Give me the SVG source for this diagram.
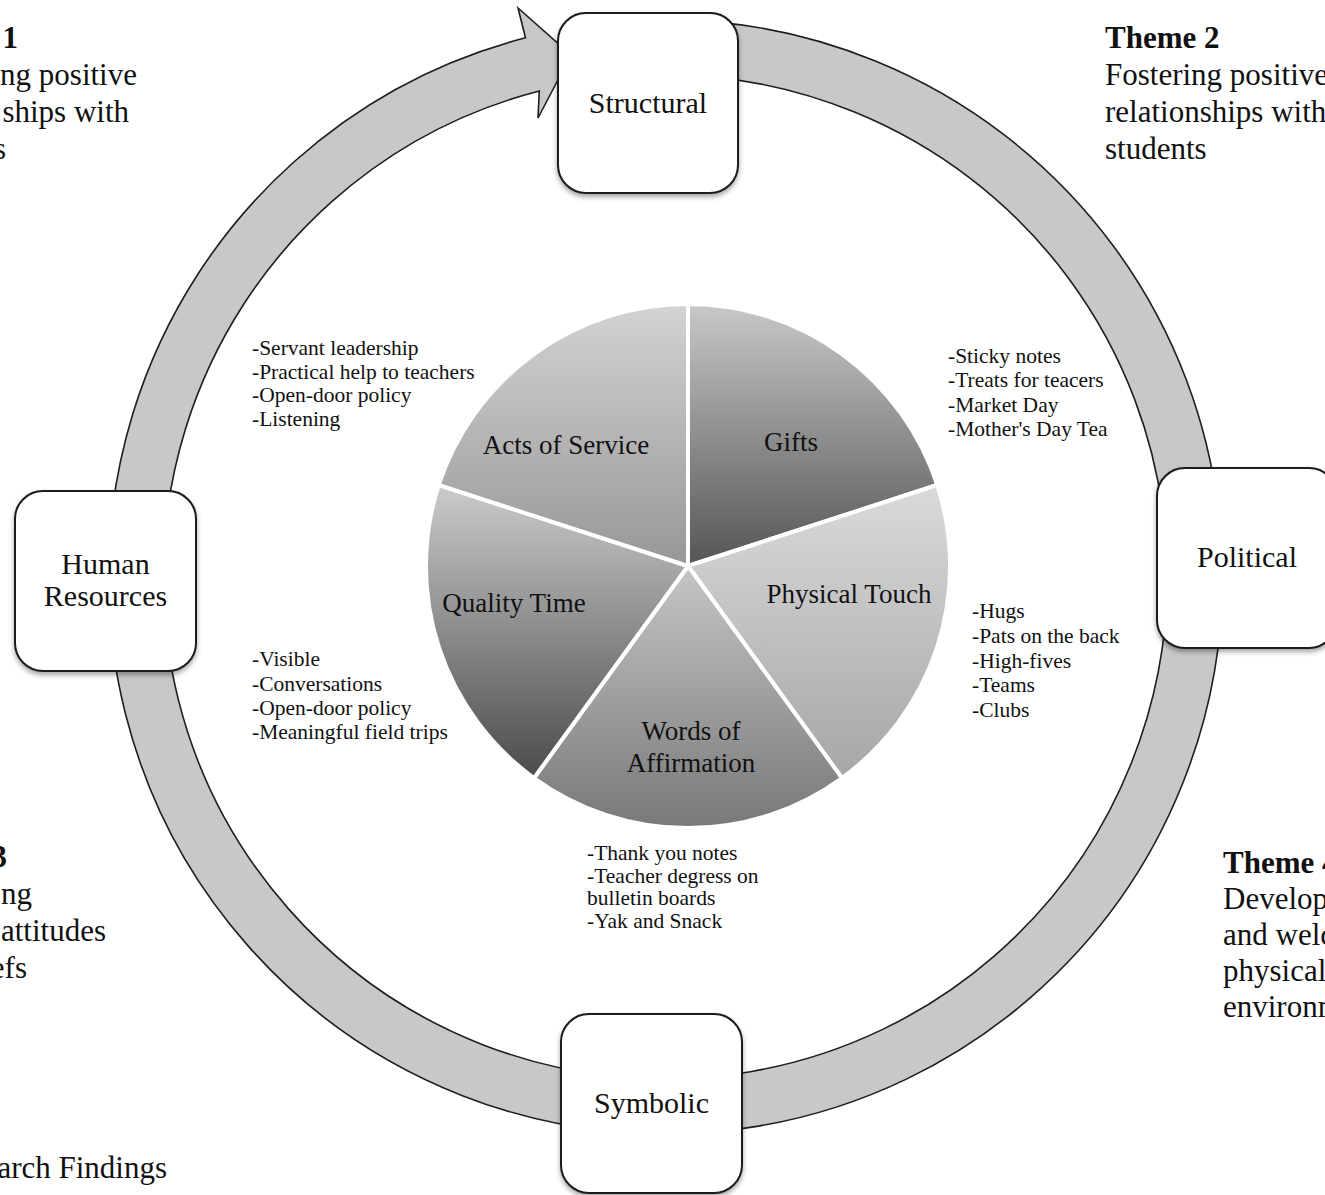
<svg xmlns="http://www.w3.org/2000/svg" width="1325" height="1195" viewBox="0 0 1325 1195">
<style>
.box{fill:#fff;stroke:#1a1a1a;stroke-width:2;filter:url(#sh)}
.lbl{font-family:"Liberation Serif","Times New Roman",serif;font-size:30px;fill:#111;text-anchor:middle}
.pie{font-family:"Liberation Serif","Times New Roman",serif;font-size:27px;fill:#111;text-anchor:middle}
.lst{font-family:"Liberation Serif","Times New Roman",serif;font-size:21.5px;fill:#111}
.th{font-family:"Liberation Serif","Times New Roman",serif;font-size:31px;fill:#111}
.b{font-weight:bold}
.e{text-anchor:end}
.slice{stroke:#fff;stroke-width:4;stroke-linejoin:round}
</style>
<defs>
<filter id="sh" x="-10%" y="-10%" width="120%" height="125%">
<feDropShadow dx="0" dy="3" stdDeviation="2.5" flood-color="#000" flood-opacity="0.35"/>
</filter>
<linearGradient id="gA" x1="0" y1="0" x2="0" y2="1"><stop offset="0" stop-color="#d3d3d3"/><stop offset="1" stop-color="#979797"/></linearGradient>
<linearGradient id="gG" x1="0" y1="0" x2="0" y2="1"><stop offset="0" stop-color="#c8c8c8"/><stop offset="1" stop-color="#555"/></linearGradient>
<linearGradient id="gP" x1="0" y1="0" x2="0" y2="1"><stop offset="0" stop-color="#dadada"/><stop offset="1" stop-color="#a6a6a6"/></linearGradient>
<linearGradient id="gW" x1="0" y1="0" x2="0" y2="1"><stop offset="0" stop-color="#c6c6c6"/><stop offset="1" stop-color="#787878"/></linearGradient>
<linearGradient id="gQ" x1="0" y1="0" x2="0" y2="1"><stop offset="0" stop-color="#cbcbcb"/><stop offset="1" stop-color="#4b4b4b"/></linearGradient>
</defs>
<rect width="1325" height="1195" fill="#fff"/>

<g id="connectors">
<path d="M 616.5 22.1 A 557 557 0 1 1 525.5 37.8 L 518 8 L 571 55 L 538 118 L 539.3 91 A 502 502 0 1 0 621.2 76.9 Z" fill="#c8c8c8" stroke="#1e1e1e" stroke-width="1.6" stroke-linejoin="miter"/>
</g>

<g id="node-structural">
<rect class="box" x="558" y="13" width="180" height="180" rx="28"/>
<text class="lbl" x="648" y="113">Structural</text>
</g>
<g id="node-human-resources">
<rect class="box" x="15" y="491" width="181" height="180" rx="28"/>
<text class="lbl" x="105.5" y="574">Human</text>
<text class="lbl" x="105.5" y="606">Resources</text>
</g>
<g id="node-political">
<rect class="box" x="1157" y="468" width="180" height="180" rx="28"/>
<text class="lbl" x="1247" y="567">Political</text>
</g>
<g id="node-symbolic">
<rect class="box" x="561" y="1014" width="181" height="179" rx="28"/>
<text class="lbl" x="651.5" y="1113">Symbolic</text>
</g>

<g id="pie">
<g id="slice-gifts">
<path class="slice" d="M 688 566 L 688 304 A 262 262 0 0 1 937.2 485 Z" fill="url(#gG)"/>
<text class="pie" x="791" y="451">Gifts</text>
</g>
<g id="slice-physical-touch">
<path class="slice" d="M 688 566 L 937.2 485 A 262 262 0 0 1 842 778 Z" fill="url(#gP)"/>
<text class="pie" x="849" y="603">Physical Touch</text>
</g>
<g id="slice-words">
<path class="slice" d="M 688 566 L 842 778 A 262 262 0 0 1 534 778 Z" fill="url(#gW)"/>
<text class="pie" x="691" y="740">Words of</text>
<text class="pie" x="691" y="772">Affirmation</text>
</g>
<g id="slice-quality-time">
<path class="slice" d="M 688 566 L 534 778 A 262 262 0 0 1 438.8 485 Z" fill="url(#gQ)"/>
<text class="pie" x="514" y="612">Quality Time</text>
</g>
<g id="slice-acts">
<path class="slice" d="M 688 566 L 438.8 485 A 262 262 0 0 1 688 304 Z" fill="url(#gA)"/>
<text class="pie" x="566" y="454">Acts of Service</text>
</g>
</g>

<g id="list-acts">
<text class="lst" x="252" y="355">-Servant leadership</text>
<text class="lst" x="252" y="378.5">-Practical help to teachers</text>
<text class="lst" x="252" y="402">-Open-door policy</text>
<text class="lst" x="252" y="425.5">-Listening</text>
</g>
<g id="list-gifts">
<text class="lst" x="948" y="363">-Sticky notes</text>
<text class="lst" x="948" y="387">-Treats for teacers</text>
<text class="lst" x="948" y="411.5">-Market Day</text>
<text class="lst" x="948" y="436">-Mother's Day Tea</text>
</g>
<g id="list-physical">
<text class="lst" x="972" y="618">-Hugs</text>
<text class="lst" x="972" y="643">-Pats on the back</text>
<text class="lst" x="972" y="667.5">-High-fives</text>
<text class="lst" x="972" y="692">-Teams</text>
<text class="lst" x="972" y="717">-Clubs</text>
</g>
<g id="list-quality">
<text class="lst" x="252" y="666">-Visible</text>
<text class="lst" x="252" y="690.5">-Conversations</text>
<text class="lst" x="252" y="715">-Open-door policy</text>
<text class="lst" x="252" y="739">-Meaningful field trips</text>
</g>
<g id="list-words">
<text class="lst" x="587" y="860">-Thank you notes</text>
<text class="lst" x="587" y="882.5">-Teacher degress on</text>
<text class="lst" x="587" y="905">bulletin boards</text>
<text class="lst" x="587" y="927.5">-Yak and Snack</text>
</g>

<g id="theme-1">
<text class="th b e" x="18" y="48">1</text>
<text class="th e" x="137" y="85">ng positive</text>
<text class="th e" x="129" y="122">ships with</text>
<text class="th e" x="6" y="159">s</text>
</g>
<g id="theme-2">
<text class="th b" x="1105" y="48">Theme 2</text>
<text class="th" x="1105" y="85">Fostering positive</text>
<text class="th" x="1105" y="122">relationships with</text>
<text class="th" x="1105" y="159">students</text>
</g>
<g id="theme-3">
<text class="th b e" x="7" y="867">3</text>
<text class="th e" x="32" y="904">ng</text>
<text class="th e" x="106" y="941">attitudes</text>
<text class="th e" x="27" y="978">efs</text>
</g>
<g id="theme-4">
<text class="th b" x="1223" y="873">Theme 4</text>
<text class="th" x="1223" y="909">Develop</text>
<text class="th" x="1223" y="945">and welc</text>
<text class="th" x="1223" y="981">physical</text>
<text class="th" x="1223" y="1017">environm</text>
</g>
<g id="caption">
<text class="th e" x="167" y="1178">arch Findings</text>
</g>
</svg>
